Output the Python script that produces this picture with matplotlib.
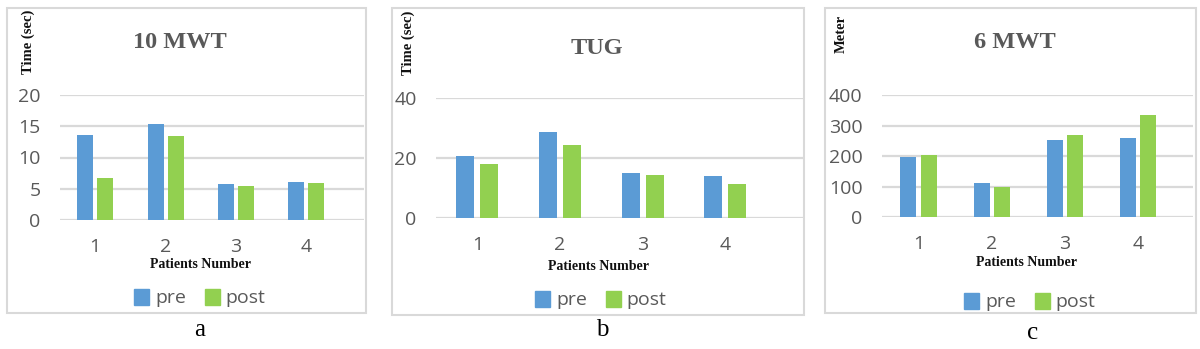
import matplotlib
matplotlib.use("Agg")
from matplotlib import pyplot as plt
from matplotlib.patches import Rectangle, Patch

# data
patients = [1, 2, 3, 4]
mwt10_pre = [13.6, 15.4, 5.8, 6.1]
mwt10_post = [6.7, 13.4, 5.4, 5.9]
tug_pre = [20.8, 28.6, 14.9, 14.0]
tug_post = [18.0, 24.4, 14.4, 11.3]
mwt6_pre = [196, 111, 252, 259]
mwt6_post = [205, 99, 269, 335]

W, H = 1200, 349
PRE_C = "#5B9BD5"
POST_C = "#92D050"
GRID_C = "#D9D9D9"
TXT_C = "#595959"


def fx(px):
    return px / W


def fy(py):
    return 1 - py / H


def draw_panel(fig, pre, post, title, ylabel, yticks, cfg):
    # frame around the whole panel
    fx0, fy0, fx1, fy1 = cfg["frame"]
    fig.patches.append(Rectangle((fx(fx0), fy(fy1)), fx(fx1 - fx0), (fy1 - fy0) / H,
                                 transform=fig.transFigure, fill=False,
                                 edgecolor=GRID_C, lw=1.5))

    left, right, ytop, ybot = cfg["axes"]
    ax = fig.add_axes([fx(left), fy(ybot), fx(right - left), (ybot - ytop) / H])
    w = cfg["bw"]
    off = cfg["off"]
    ax.bar([p - off for p in patients], pre, width=w, color=PRE_C, zorder=3)
    ax.bar([p + off for p in patients], post, width=w, color=POST_C, zorder=3)

    for t in yticks:
        ax.axhline(t, color=GRID_C, lw=1.6, zorder=1)
    ax.set_ylim(0, yticks[-1])
    ax.set_xlim(0.5, cfg["xmax"])
    ax.set_yticks(yticks)
    ax.set_xticks(patients)
    ax.tick_params(axis="both", length=0, labelsize=14, labelcolor=TXT_C)
    ax.tick_params(axis="y", pad=14)
    ax.tick_params(axis="x", pad=13)
    for lab in ax.get_xticklabels() + ax.get_yticklabels():
        lab.set_family("Open Sans")
    for s in ax.spines.values():
        s.set_visible(False)
    ax.patch.set_alpha(0)

    tx, ty = cfg["title"]
    fig.text(fx(tx), fy(ty), title, ha="center", va="center", fontsize=17.5,
             fontweight="bold", family="Liberation Serif", color=TXT_C)
    lx, ly = cfg["ylabel"]
    fig.text(fx(lx), fy(ly), ylabel, ha="center", va="center", rotation=90,
             fontsize=10.5, fontweight="bold", family="Liberation Serif", color="#111111")
    px_, py_ = cfg["xlabel"]
    fig.text(fx(px_), fy(py_), "Patients Number", ha="center", va="center",
             fontsize=10, fontweight="bold", family="Liberation Serif", color="#111111")

    gx, gy = cfg["legend"]
    handles = [Patch(color=PRE_C, label="pre"), Patch(color=POST_C, label="post")]
    leg = fig.legend(handles=handles, loc="center", bbox_to_anchor=(fx(gx), fy(gy)),
                     ncol=2, frameon=False, handlelength=0.75,
                     handleheight=0.9, handletextpad=0.3, columnspacing=1.0,
                     prop={"family": "Open Sans", "size": 14})
    for t in leg.get_texts():
        t.set_color(TXT_C)

    sx, sy = cfg["sub"]
    fig.text(fx(sx), fy(sy), cfg["letter"], ha="center", va="center",
             fontsize=18, family="Liberation Serif", color="black")


def main():
    fig = plt.figure(figsize=(12, 3.49), dpi=100)

    draw_panel(fig, mwt10_pre, mwt10_post, "10 MWT", "Time (sec)", [0, 5, 10, 15, 20], {
        "frame": (7, 8, 366, 313), "axes": (60, 364, 95, 220),
        "xmax": 4.82, "bw": 0.228, "off": 0.142,
        "title": (180, 43), "ylabel": (28, 42), "xlabel": (200, 265),
        "legend": (200, 298), "sub": (200, 330), "letter": "a"})

    draw_panel(fig, tug_pre, tug_post, "TUG", "Time (sec)", [0, 20, 40], {
        "frame": (392, 8, 804, 315), "axes": (436, 803, 98, 218),
        "xmax": 4.94, "bw": 0.218, "off": 0.145,
        "title": (597, 48), "ylabel": (408, 43), "xlabel": (598, 266),
        "legend": (601, 300), "sub": (602, 330), "letter": "b"})

    draw_panel(fig, mwt6_pre, mwt6_post, "6 MWT", "Meter", [0, 100, 200, 300, 400], {
        "frame": (825, 8, 1196, 313), "axes": (882, 1193, 95.3, 217),
        "xmax": 4.75, "bw": 0.219, "off": 0.14,
        "title": (1015, 43), "ylabel": (841, 34), "xlabel": (1027, 262),
        "legend": (1030, 302), "sub": (1033, 333), "letter": "c"})

    fig.savefig("out.png", dpi=100, facecolor="white")


if __name__ == '__main__':
    main()
